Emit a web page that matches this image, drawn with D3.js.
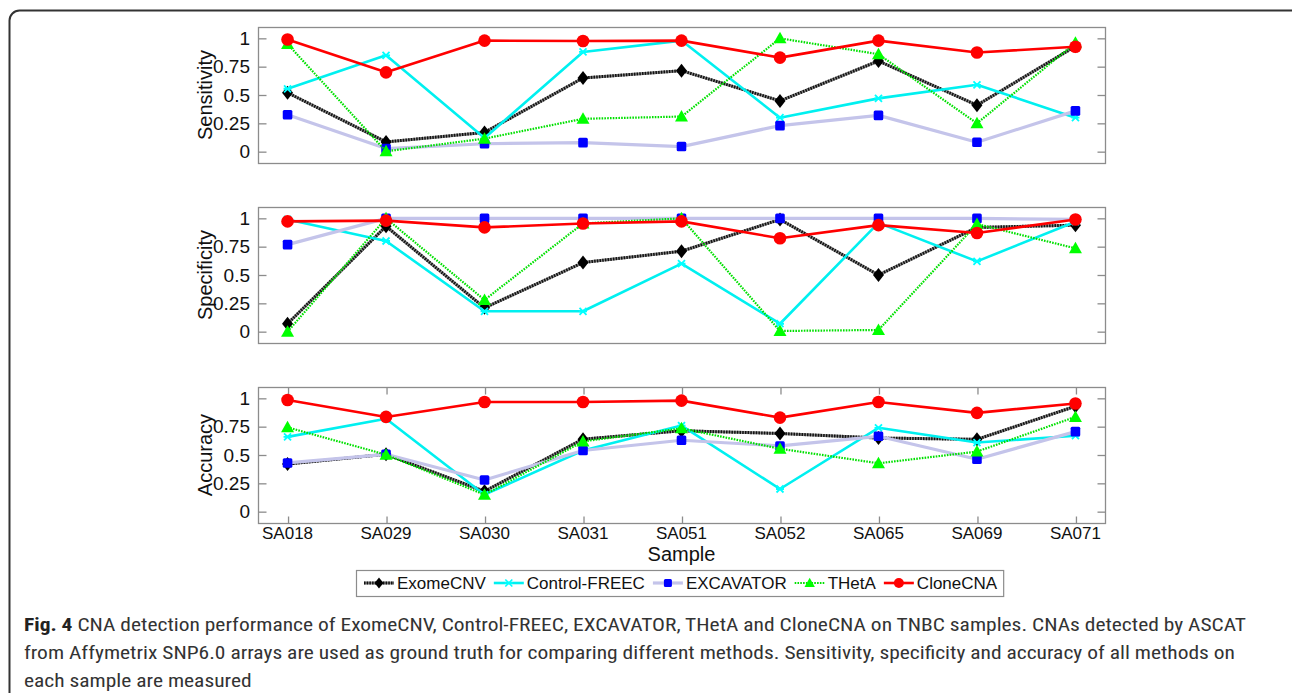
<!DOCTYPE html>
<html>
<head>
<meta charset="utf-8">
<script src="https://cdn.jsdelivr.net/npm/d3@7"></script>
<style>
  html, body { margin: 0; padding: 0; background: #fff; }
  svg { display: block; }
</style>
</head>
<body>
<svg id="fig" width="1292" height="693"></svg>
<script>
// Samples on the x axis
const samples = ["SA018", "SA029", "SA030", "SA031", "SA051", "SA052", "SA065", "SA069", "SA071"];
const yTicks = [0, 0.25, 0.5, 0.75, 1];
const yTickLabels = ["0", "0.25", "0.5", "0.75", "1"];

// Sensitivity per method
const sensExomeCNV     = [0.52, 0.086, 0.17, 0.65, 0.715, 0.448, 0.80, 0.41, 0.93];
const sensControlFREEC = [0.555, 0.85, 0.12, 0.88, 0.98, 0.30, 0.47, 0.59, 0.30];
const sensEXCAVATOR    = [0.326, 0.027, 0.07, 0.08, 0.045, 0.23, 0.32, 0.083, 0.36];
const sensTHetA        = [0.95, 0.003, 0.115, 0.29, 0.31, 1.0, 0.86, 0.25, 0.96];
const sensCloneCNA     = [0.99, 0.70, 0.98, 0.976, 0.98, 0.83, 0.98, 0.875, 0.926];

// Specificity per method
const specExomeCNV     = [0.07, 0.93, 0.21, 0.61, 0.71, 0.99, 0.50, 0.92, 0.94];
const specControlFREEC = [0.99, 0.80, 0.18, 0.18, 0.60, 0.07, 0.96, 0.62, 0.97];
const specEXCAVATOR    = [0.768, 1.0, 1.0, 1.0, 1.0, 1.0, 1.0, 1.0, 0.99];
const specTHetA        = [0.0, 1.0, 0.28, 0.955, 1.0, 0.006, 0.015, 0.95, 0.735];
const specCloneCNA     = [0.973, 0.98, 0.92, 0.955, 0.973, 0.824, 0.94, 0.87, 0.99];

// Accuracy per method
const accExomeCNV      = [0.42, 0.506, 0.18, 0.64, 0.714, 0.69, 0.65, 0.638, 0.93];
const accControlFREEC  = [0.66, 0.82, 0.15, 0.54, 0.76, 0.20, 0.74, 0.61, 0.67];
const accEXCAVATOR     = [0.43, 0.506, 0.28, 0.54, 0.63, 0.58, 0.665, 0.463, 0.706];
const accTHetA         = [0.744, 0.503, 0.15, 0.62, 0.735, 0.555, 0.427, 0.53, 0.836];
const accCloneCNA      = [0.985, 0.836, 0.967, 0.967, 0.98, 0.83, 0.967, 0.872, 0.955];

const methodNames = ["ExomeCNV", "Control-FREEC", "EXCAVATOR", "THetA", "CloneCNA"];

const captionLines = [
  ["Fig. 4", " CNA detection performance of ExomeCNV, Control-FREEC, EXCAVATOR, THetA and CloneCNA on TNBC samples. CNAs detected by ASCAT"],
  ["", "from Affymetrix SNP6.0 arrays are used as ground truth for comparing different methods. Sensitivity, specificity and accuracy of all methods on"],
  ["", "each sample are measured"]
];

const panels = [
  { label: "Sensitivity", series: [sensExomeCNV, sensControlFREEC, sensEXCAVATOR, sensTHetA, sensCloneCNA] },
  { label: "Specificity", series: [specExomeCNV, specControlFREEC, specEXCAVATOR, specTHetA, specCloneCNA] },
  { label: "Accuracy",    series: [accExomeCNV, accControlFREEC, accEXCAVATOR, accTHetA, accCloneCNA] }
];

// Visual style for each method (line + marker)
const styles = [
  { marker: "diamond",  fill: "#000",    line: [{ stroke: "#8a8a8a", width: 3 }, { stroke: "#111", width: 3, dash: "1.5 1.2" }] },
  { marker: "cross",    fill: "#00ffff", line: [{ stroke: "#00f0f0", width: 2.6 }] },
  { marker: "square",   fill: "#0000ff", line: [{ stroke: "#c4c4ea", width: 3.2 }] },
  { marker: "triangle", fill: "#00ff00", line: [{ stroke: "#00e000", width: 2.2, dash: "1.6 1.2" }] },
  { marker: "circle",   fill: "#ff0000", line: [{ stroke: "#ff0000", width: 2.6 }] }
];

const svg = d3.select("#fig");
const FONT = "'Liberation Sans', Arial, sans-serif";

// Outer rounded frame
svg.append("rect")
  .attr("x", 9.5).attr("y", 10.5)
  .attr("width", 1300).attr("height", 720)
  .attr("rx", 10).attr("ry", 10)
  .attr("fill", "none").attr("stroke", "#333").attr("stroke-width", 2);

const plotLeft = 258, plotRight = 1105;
const panelTops = [27, 207, 387];
const panelH = 136;

const x = d3.scalePoint().domain(samples).range([plotLeft, plotRight]).padding(0.3);

function markerPath(type, cx, cy) {
  switch (type) {
    case "diamond":
      return `M${cx},${cy - 7}L${cx + 5.5},${cy}L${cx},${cy + 7}L${cx - 5.5},${cy}Z`;
    case "triangle":
      return `M${cx},${cy - 6.5}L${cx + 6.5},${cy + 5}L${cx - 6.5},${cy + 5}Z`;
    case "cross":
      return `M${cx - 3.5},${cy - 3.5}L${cx + 3.5},${cy + 3.5}M${cx - 3.5},${cy + 3.5}L${cx + 3.5},${cy - 3.5}M${cx - 4},${cy}L${cx + 4},${cy}`;
  }
  return "";
}

panels.forEach((p, pi) => {
  const top = panelTops[pi];
  const y = d3.scaleLinear().domain([-0.1, 1.1]).range([top + panelH, top]);
  const g = svg.append("g");

  // Box
  g.append("rect")
    .attr("x", plotLeft + 0.5).attr("y", top + 0.5)
    .attr("width", plotRight - plotLeft).attr("height", panelH)
    .attr("fill", "#fff").attr("stroke", "#8c8c8c").attr("stroke-width", 1.3);

  // Y ticks on both sides (inward) and labels on the left
  const yAxisL = d3.axisRight(y).tickValues(yTicks).tickSize(8).tickFormat("");
  const yAxisR = d3.axisLeft(y).tickValues(yTicks).tickSize(8).tickFormat("");
  [g.append("g").attr("transform", `translate(${plotLeft + 0.5},0)`).call(yAxisL),
   g.append("g").attr("transform", `translate(${plotRight + 0.5},0)`).call(yAxisR)].forEach(ax => {
    ax.select(".domain").remove();
    ax.selectAll("line").attr("stroke", "#8c8c8c").attr("stroke-width", 1.3);
  });
  g.selectAll(".ytl").data(yTicks).join("text")
    .attr("x", plotLeft - 8).attr("y", d => y(d))
    .attr("dy", "0.35em").attr("text-anchor", "end")
    .attr("font-family", FONT).attr("font-size", 19).attr("fill", "#111")
    .text((d, i) => yTickLabels[i]);

  // Y label
  g.append("text")
    .attr("transform", `translate(${205},${top + panelH / 2}) rotate(-90)`)
    .attr("text-anchor", "middle").attr("dy", "0.35em")
    .attr("font-family", FONT).attr("font-size", 20).attr("fill", "#111")
    .text(p.label);

  // X ticks only on the bottom panel
  if (pi === 2) {
    const xTop = d3.axisBottom(x).tickSize(7).tickFormat("");
    const xBot = d3.axisTop(x).tickSize(7).tickFormat("");
    [g.append("g").attr("transform", `translate(0.5,${top + 0.5})`).call(xTop),
     g.append("g").attr("transform", `translate(0.5,${top + panelH + 0.5})`).call(xBot)].forEach(ax => {
      ax.select(".domain").remove();
      ax.selectAll("line").attr("stroke", "#8c8c8c").attr("stroke-width", 1.3);
    });
    g.selectAll(".xtl").data(samples).join("text")
      .attr("x", d => x(d)).attr("y", top + panelH + 16)
      .attr("text-anchor", "middle")
      .attr("font-family", FONT).attr("font-size", 17).attr("fill", "#111")
      .text(d => d);
    g.append("text")
      .attr("x", (plotLeft + plotRight) / 2).attr("y", top + panelH + 38)
      .attr("text-anchor", "middle")
      .attr("font-family", FONT).attr("font-size", 20).attr("fill", "#111")
      .text("Sample");
  }

  // Series lines and markers
  const line = d3.line().x((d, i) => x(samples[i])).y(d => y(d));
  p.series.forEach((vals, si) => {
    const st = styles[si];
    const sg = g.append("g");
    st.line.forEach(l => {
      sg.append("path").attr("d", line(vals))
        .attr("fill", "none").attr("stroke", l.stroke).attr("stroke-width", l.width)
        .attr("stroke-dasharray", l.dash || null).attr("stroke-linejoin", "round");
    });
    vals.forEach((v, i) => {
      const cx = x(samples[i]), cy = y(v);
      if (st.marker === "circle") {
        sg.append("circle").attr("cx", cx).attr("cy", cy).attr("r", 6.3).attr("fill", st.fill);
      } else if (st.marker === "square") {
        sg.append("rect").attr("x", cx - 4.8).attr("y", cy - 4.8).attr("width", 9.6).attr("height", 9.6)
          .attr("rx", 1.5).attr("fill", st.fill);
      } else if (st.marker === "cross") {
        sg.append("path").attr("d", markerPath("cross", cx, cy)).attr("fill", "none")
          .attr("stroke", st.fill).attr("stroke-width", 1.8);
      } else {
        sg.append("path").attr("d", markerPath(st.marker, cx, cy)).attr("fill", st.fill);
      }
    });
  });
});

// Legend
const lg = svg.append("g");
const lgTop = 570, lgH = 26;
let cursor = 364;
methodNames.forEach((name, si) => {
  const st = styles[si];
  const cy = lgTop + lgH / 2;
  const it = lg.append("g");
  st.line.forEach(l => {
    it.append("line").attr("x1", cursor).attr("x2", cursor + 30).attr("y1", cy).attr("y2", cy)
      .attr("stroke", l.stroke).attr("stroke-width", l.width).attr("stroke-dasharray", l.dash || null);
  });
  const mx = cursor + 15;
  if (st.marker === "circle") it.append("circle").attr("cx", mx).attr("cy", cy).attr("r", 5).attr("fill", st.fill);
  else if (st.marker === "square") it.append("rect").attr("x", mx - 4).attr("y", cy - 4).attr("width", 8).attr("height", 8).attr("rx", 1.5).attr("fill", st.fill);
  else if (st.marker === "cross") it.append("path").attr("d", markerPath("cross", mx, cy)).attr("stroke", st.fill).attr("stroke-width", 1.6).attr("fill", "none");
  else it.append("path").attr("d", markerPath(st.marker, mx, cy)).attr("fill", st.fill)
      .attr("transform", `translate(${mx},${cy}) scale(0.8) translate(${-mx},${-cy})`);
  const t = it.append("text").attr("x", cursor + 33).attr("y", cy).attr("dy", "0.35em")
    .attr("font-family", FONT).attr("font-size", 17).attr("fill", "#111").text(name);
  cursor += 33 + t.node().getComputedTextLength() + 8;
});
lg.insert("rect", ":first-child")
  .attr("x", 356.5).attr("y", lgTop + 0.5).attr("width", cursor - 356 - 2).attr("height", lgH)
  .attr("fill", "#fff").attr("stroke", "#8c8c8c").attr("stroke-width", 1.2);

// Caption: one common horizontal compression so the first line spans the frame width
const capFont = "'Liberation Sans Narrow', 'Roboto Condensed', 'Open Sans', sans-serif";
const capTexts = captionLines.map((ln, i) => {
  const t = svg.append("text")
    .attr("x", 24).attr("y", 631 + i * 28)
    .attr("font-family", capFont).attr("font-size", 19).attr("fill", "#333");
  if (ln[0]) t.append("tspan").attr("font-weight", "bold").attr("fill", "#222").text(ln[0]);
  t.append("tspan").text(ln[1]);
  return t;
});
const natural = capTexts.map(t => t.node().getComputedTextLength());
const squeeze = 1222 / natural[0];
capTexts.forEach((t, i) => {
  t.attr("textLength", natural[i] * squeeze).attr("lengthAdjust", "spacingAndGlyphs");
});
</script>
</body>
</html>
